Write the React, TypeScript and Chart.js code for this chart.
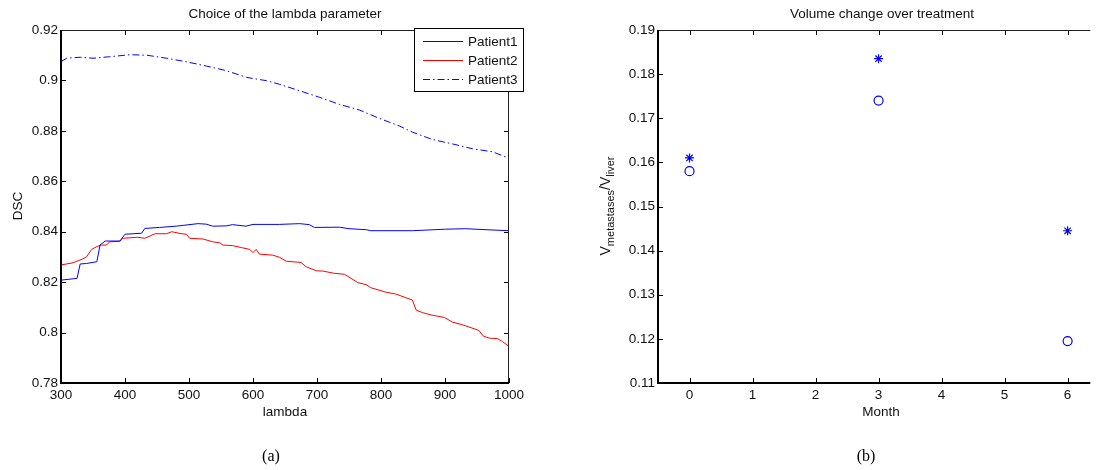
import React, { useEffect, useRef } from "react";
import { Chart, registerables } from "chart.js";

Chart.register(...registerables);

const FONT = "'Liberation Sans', Arial, Helvetica, sans-serif";
const SERIF = "'Liberation Serif', 'Times New Roman', serif";
const TXT = "#111111";

// ---------- Chart (a): Choice of the lambda parameter ----------
const lambdaP1 = [300, 325, 330, 340, 356, 361, 369, 392, 400, 426, 431, 454, 480, 514, 527, 537, 558, 568, 589, 600, 641, 673, 688, 696, 735, 750, 777, 784, 849, 901, 932, 964, 1000];
const dscP1 = [0.8208, 0.8215, 0.8272, 0.8274, 0.8281, 0.8347, 0.8363, 0.8363, 0.839, 0.8394, 0.8413, 0.8417, 0.8422, 0.8432, 0.843, 0.8422, 0.8423, 0.8428, 0.8422, 0.8429, 0.8429, 0.8432, 0.8428, 0.8417, 0.8418, 0.8412, 0.8408, 0.8404, 0.8404, 0.841, 0.8412, 0.8408, 0.8404];

const lambdaP2 = [300, 319, 327, 334, 340, 348, 356, 363, 371, 376, 392, 397, 420, 431, 439, 447, 465, 473, 486, 496, 501, 522, 537, 548, 553, 568, 582, 595, 600, 605, 610, 631, 641, 652, 675, 683, 699, 709, 727, 743, 764, 777, 784, 808, 823, 839, 849, 855, 865, 878, 899, 912, 927, 948, 953, 960, 969, 982, 990, 1000];
const dscP2 = [0.8268, 0.8277, 0.8285, 0.8292, 0.8301, 0.833, 0.8341, 0.8347, 0.8347, 0.836, 0.8362, 0.8374, 0.8378, 0.8374, 0.8383, 0.8392, 0.8392, 0.84, 0.8393, 0.839, 0.8374, 0.8371, 0.836, 0.8356, 0.8347, 0.8345, 0.8337, 0.833, 0.8317, 0.833, 0.8311, 0.8307, 0.8299, 0.8283, 0.8278, 0.8261, 0.8245, 0.8244, 0.8235, 0.8231, 0.8198, 0.819, 0.8178, 0.816, 0.8153, 0.8138, 0.8129, 0.8089, 0.8079, 0.807, 0.806, 0.8041, 0.8031, 0.8013, 0.8008, 0.7986, 0.7978, 0.7976, 0.7964, 0.7945];

const lambdaP3 = [300, 309, 330, 350, 376, 408, 434, 465, 496, 527, 558, 590, 621, 641, 673, 704, 735, 766, 797, 829, 849, 880, 912, 943, 974, 1000];
const dscP3 = [0.9075, 0.9088, 0.9092, 0.9088, 0.9094, 0.9102, 0.91, 0.9088, 0.9074, 0.9057, 0.9039, 0.9012, 0.8999, 0.8985, 0.8959, 0.8933, 0.8905, 0.8883, 0.885, 0.8819, 0.8795, 0.8766, 0.8748, 0.8729, 0.8717, 0.8692];

const seriesNames = ["Patient1", "Patient2", "Patient3"];
const lambdaTicks = [300, 400, 500, 600, 700, 800, 900, 1000];
const dscTicks = [0.78, 0.8, 0.82, 0.84, 0.86, 0.88, 0.9, 0.92];

// ---------- Chart (b): Volume change over treatment ----------
const months = [0, 3, 6];
const ratioStar = [0.161, 0.1835, 0.1445];
const ratioCircle = [0.158, 0.174, 0.1195];
const monthTicks = [0, 1, 2, 3, 4, 5, 6];
const ratioTicks = [0.11, 0.12, 0.13, 0.14, 0.15, 0.16, 0.17, 0.18, 0.19];

const P3_DASH = [7, 3, 1.5, 3];

const fmt = (v: number) => String(Number(Number(v).toFixed(2)));

type FrameCfg = {
  title: string;
  titleX: number;
  xTitle: string;
  xTitleX: number;
  caption: string;
  captionX: number;
  rightSide: boolean;
  yLabel: (ctx: CanvasRenderingContext2D) => void;
  legend?: boolean;
};

function framePlugin(cfg: FrameCfg) {
  return {
    id: "frame",
    afterDraw(chart: any) {
      const { ctx, chartArea: a, scales } = chart;
      const xs = scales.x;
      const ys = scales.y;
      const TL = 5;
      ctx.save();
      ctx.strokeStyle = "#000";
      ctx.lineWidth = 1;
      ctx.setLineDash([]);
      ctx.beginPath();
      for (const t of xs.ticks) {
        const px = Math.round(xs.getPixelForValue(t.value)) + 0.5;
        ctx.moveTo(px, a.bottom);
        ctx.lineTo(px, a.bottom - TL);
        ctx.moveTo(px, a.top);
        ctx.lineTo(px, a.top + TL);
      }
      for (const t of ys.ticks) {
        const py = Math.round(ys.getPixelForValue(t.value)) + 0.5;
        ctx.moveTo(a.left, py);
        ctx.lineTo(a.left + TL, py);
        if (cfg.rightSide) {
          ctx.moveTo(a.right, py);
          ctx.lineTo(a.right - TL, py);
        }
      }
      ctx.stroke();
      // thin top / right
      ctx.strokeStyle = "#222";
      ctx.beginPath();
      ctx.moveTo(a.left, a.top + 0.5);
      ctx.lineTo(a.right, a.top + 0.5);
      if (cfg.rightSide) {
        ctx.moveTo(Math.round(a.right) - 0.5, a.top);
        ctx.lineTo(Math.round(a.right) - 0.5, a.bottom);
      }
      ctx.stroke();
      // thick left / bottom
      ctx.strokeStyle = "#000";
      ctx.lineWidth = 2;
      ctx.beginPath();
      ctx.moveTo(a.left, a.top);
      ctx.lineTo(a.left, a.bottom);
      ctx.lineTo(a.right, a.bottom);
      ctx.stroke();

      // texts
      ctx.fillStyle = TXT;
      ctx.font = `13.5px ${FONT}`;
      ctx.textAlign = "center";
      ctx.textBaseline = "middle";
      ctx.fillText(cfg.title, cfg.titleX, 14);
      ctx.fillText(cfg.xTitle, cfg.xTitleX, 412);
      cfg.yLabel(ctx);
      ctx.fillStyle = "#000";
      ctx.font = `16px ${SERIF}`;
      ctx.textAlign = "center";
      ctx.textBaseline = "middle";
      ctx.fillText(cfg.caption, cfg.captionX, 457);

      if (cfg.legend) {
        const bx = 414, by = 28, bw = 109, bh = 63;
        ctx.fillStyle = "#fff";
        ctx.fillRect(bx, by, bw, bh);
        ctx.strokeStyle = "#000";
        ctx.lineWidth = 1;
        ctx.strokeRect(bx + 0.5, by + 0.5, bw, bh);
        const ds = chart.data.datasets;
        ds.forEach((d: any, i: number) => {
          const ly = 41 + i * 19;
          ctx.strokeStyle = d.borderColor;
          ctx.lineWidth = 1;
          ctx.setLineDash(d.borderDash || []);
          ctx.beginPath();
          ctx.moveTo(423, ly + 0.5);
          ctx.lineTo(463, ly + 0.5);
          ctx.stroke();
          ctx.setLineDash([]);
          ctx.fillStyle = TXT;
          ctx.font = `13.5px ${FONT}`;
          ctx.textAlign = "left";
          ctx.textBaseline = "middle";
          ctx.fillText(seriesNames[i], 468, ly + 1);
        });
      }
      ctx.restore();
    },
  };
}

function axisOpts(min: number, max: number, ticks: number[], padding: number, fit: (s: any) => void) {
  return {
    type: "linear" as const,
    min,
    max,
    grid: { display: false, drawTicks: false },
    border: { display: false },
    afterBuildTicks: (s: any) => {
      s.ticks = ticks.map((v) => ({ value: v }));
    },
    afterFit: fit,
    ticks: {
      autoSkip: false,
      maxRotation: 0,
      padding,
      color: TXT,
      font: { family: FONT, size: 13.5 },
      callback: (v: any) => fmt(v),
    },
  };
}

function makeLeft(canvas: HTMLCanvasElement) {
  const toPts = (xs: number[], ys: number[]) => xs.map((x, i) => ({ x, y: ys[i] }));
  return new Chart(canvas, {
    type: "line",
    data: {
      datasets: [
        { label: seriesNames[0], data: toPts(lambdaP1, dscP1), borderColor: "#0000ff", borderWidth: 1, pointRadius: 0, tension: 0, fill: false },
        { label: seriesNames[1], data: toPts(lambdaP2, dscP2), borderColor: "#ff0000", borderWidth: 1, pointRadius: 0, tension: 0, fill: false },
        { label: seriesNames[2], data: toPts(lambdaP3, dscP3), borderColor: "#0000ff", borderWidth: 1, borderDash: P3_DASH, pointRadius: 0, tension: 0, fill: false },
      ],
    } as any,
    options: {
      responsive: false,
      animation: false,
      events: [],
      layout: { padding: { left: 0, right: 39, top: 30, bottom: 0 } },
      plugins: { legend: { display: false }, tooltip: { enabled: false }, title: { display: false } },
      scales: {
        x: axisOpts(300, 1000, lambdaTicks, 4, (s: any) => { s.height = 87; }),
        y: axisOpts(0.78, 0.92, dscTicks, 3, (s: any) => { s.width = 61; }),
      },
    } as any,
    plugins: [
      framePlugin({
        title: "Choice of the lambda parameter",
        titleX: 285,
        xTitle: "lambda",
        xTitleX: 285,
        caption: "(a)",
        captionX: 271,
        rightSide: true,
        legend: true,
        yLabel: (ctx) => {
          ctx.save();
          ctx.translate(18, 206);
          ctx.rotate(-Math.PI / 2);
          ctx.font = `13.5px ${FONT}`;
          ctx.textAlign = "center";
          ctx.textBaseline = "middle";
          ctx.fillStyle = TXT;
          ctx.fillText("DSC", 0, 0);
          ctx.restore();
        },
      }),
    ],
  });
}

function makeRight(canvas: HTMLCanvasElement) {
  const toPts = (xs: number[], ys: number[]) => xs.map((x, i) => ({ x, y: ys[i] }));
  return new Chart(canvas, {
    type: "scatter",
    data: {
      datasets: [
        { label: "star", data: toPts(months, ratioStar), pointStyle: "star", pointRadius: 4.5, borderColor: "#0000ff", backgroundColor: "rgba(0,0,0,0)", borderWidth: 1.2 },
        { label: "circle", data: toPts(months, ratioCircle), pointStyle: "circle", pointRadius: 4.5, borderColor: "#0000ff", backgroundColor: "rgba(0,0,0,0)", borderWidth: 1.2 },
      ],
    } as any,
    options: {
      responsive: false,
      animation: false,
      events: [],
      layout: { padding: { left: 0, right: 0, top: 30, bottom: 0 } },
      plugins: { legend: { display: false }, tooltip: { enabled: false }, title: { display: false } },
      scales: {
        x: {
          ...axisOpts(-0.5, 6.36, monthTicks, 4, (s: any) => { s.height = 87; }),
          ticks: { autoSkip: false, maxRotation: 0, padding: 4, color: TXT, font: { family: FONT, size: 13.5 }, callback: (v: any) => String(v) },
        },
        y: axisOpts(0.11, 0.19, ratioTicks, 3, (s: any) => { s.width = 110; }),
      },
    } as any,
    plugins: [
      framePlugin({
        title: "Volume change over treatment",
        titleX: 334,
        xTitle: "Month",
        xTitleX: 333,
        caption: "(b)",
        captionX: 318,
        rightSide: false,
        yLabel: (ctx) => {
          ctx.save();
          ctx.translate(58, 206);
          ctx.rotate(-Math.PI / 2);
          ctx.fillStyle = TXT;
          ctx.textAlign = "left";
          ctx.textBaseline = "middle";
          const big = `14px ${FONT}`;
          const small = `11px ${FONT}`;
          const parts: [string, string, number][] = [
            ["V", big, 0],
            ["metastases", small, 5],
            ["/V", big, 0],
            ["liver", small, 5],
          ];
          let total = 0;
          for (const [t, f] of parts) {
            ctx.font = f;
            total += ctx.measureText(t).width;
          }
          let x = -total / 2;
          for (const [t, f, dy] of parts) {
            ctx.font = f;
            ctx.fillText(t, x, dy);
            x += ctx.measureText(t).width;
          }
          ctx.restore();
        },
      }),
    ],
  });
}

export default function App() {
  const leftRef = useRef<HTMLCanvasElement>(null);
  const rightRef = useRef<HTMLCanvasElement>(null);

  useEffect(() => {
    const a = leftRef.current ? makeLeft(leftRef.current) : null;
    const b = rightRef.current ? makeRight(rightRef.current) : null;
    return () => {
      a?.destroy();
      b?.destroy();
    };
  }, []);

  return (
    <div style={{ position: "absolute", left: 0, top: 0, width: 1096, height: 470, overflow: "hidden", background: "#fff" }}>
      <canvas ref={leftRef} width={548} height={470} style={{ position: "absolute", left: 0, top: 0, width: 548, height: 470, display: "block" }} />
      <canvas ref={rightRef} width={548} height={470} style={{ position: "absolute", left: 548, top: 0, width: 548, height: 470, display: "block" }} />
    </div>
  );
}
